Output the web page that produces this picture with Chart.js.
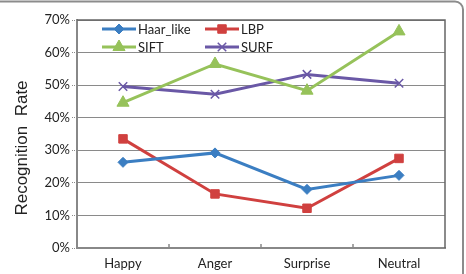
<!DOCTYPE html>
<html>
<head>
<meta charset="utf-8">
<script src="https://cdn.jsdelivr.net/npm/chart.js@4"></script>
<style>
  html, body { margin: 0; padding: 0; background: #fff; }
  #wrap { width: 466px; height: 274px; position: relative; }
</style>
</head>
<body>
<div id="wrap"><canvas id="chart" width="466" height="274"></canvas></div>
<script>
const categories = ['Happy', 'Anger', 'Surprise', 'Neutral'];
const haarLike = [26.3, 29.2, 18.0, 22.3];
const lbp = [33.5, 16.6, 12.2, 27.5];
const sift = [44.6, 56.5, 48.3, 66.5];
const surf = [49.6, 47.2, 53.3, 50.6];
const yTicks = [0, 10, 20, 30, 40, 50, 60, 70];

const tickFont = { family: 'Lato', size: 13 };

// frame, plot border, inner ticks, legend and axis title
const decor = {
  id: 'decor',
  beforeDraw(chart) {
    const ctx = chart.ctx;
    ctx.save();
    ctx.fillStyle = '#fff';
    ctx.fillRect(0, 0, chart.width, chart.height);
    ctx.strokeStyle = '#8c8c8c';
    ctx.lineWidth = 2;
    ctx.beginPath();
    ctx.roundRect(-20, 1.5, 483, 300, 8);
    ctx.stroke();
    ctx.restore();
  },
  afterDatasetsDraw(chart) {
    const ctx = chart.ctx;
    const a = chart.chartArea;
    const x = chart.scales.x;
    ctx.save();
    ctx.strokeStyle = '#666';
    ctx.lineWidth = 1.5;
    ctx.beginPath();
    ctx.moveTo(a.left, a.top);
    ctx.lineTo(a.right, a.top);
    ctx.lineTo(a.right, a.bottom);
    ctx.stroke();

    ctx.strokeStyle = '#888';
    ctx.lineWidth = 1.5;
    for (let i = 0; i < categories.length - 1; i++) {
      const px = Math.round((x.getPixelForValue(i) + x.getPixelForValue(i + 1)) / 2);
      ctx.beginPath();
      ctx.moveTo(px, a.bottom);
      ctx.lineTo(px, a.bottom - 4);
      ctx.stroke();
    }

    // legend, two columns
    const cols = [a.left + 25, a.left + 128];
    const rows = [a.top + 9, a.top + 27];
    chart.data.datasets.forEach((ds, i) => {
      const lx = cols[i % 2];
      const ly = rows[Math.floor(i / 2)];
      ctx.strokeStyle = ds.borderColor;
      ctx.fillStyle = ds.borderColor;
      ctx.lineWidth = 3;
      ctx.beginPath();
      ctx.moveTo(lx, ly);
      ctx.lineTo(lx + 34, ly);
      ctx.stroke();
      ctx.lineWidth = ds.pointBorderWidth || 1;
      Chart.helpers.drawPoint(ctx, {
        pointStyle: ds.pointStyle,
        radius: ds.pointRadius,
        borderWidth: ds.pointBorderWidth || 1,
        rotation: 0
      }, lx + 17, ly);
      ctx.fillStyle = '#222';
      ctx.font = '13px Lato';
      ctx.textBaseline = 'middle';
      ctx.textAlign = 'left';
      ctx.fillText(ds.label, lx + 36, ly + 1);
    });

    // y axis title
    ctx.translate(22, 148);
    ctx.rotate(-Math.PI / 2);
    ctx.fillStyle = '#222';
    ctx.font = '17px "Liberation Sans"';
    ctx.textAlign = 'center';
    ctx.textBaseline = 'middle';
    ctx.fillText('Recognition  Rate', 0, 0);
    ctx.restore();
  }
};

function series(label, data, color, style, radius) {
  return {
    label,
    data,
    borderColor: color,
    backgroundColor: color,
    pointBackgroundColor: color,
    pointBorderColor: color,
    borderWidth: 3,
    pointStyle: style,
    pointRadius: radius,
    pointHoverRadius: radius,
    pointBorderWidth: style === 'crossRot' ? 1.5 : 1,
    tension: 0
  };
}

const ctx = document.getElementById('chart').getContext('2d');
new Chart(ctx, {
  type: 'line',
  data: {
    labels: categories,
    datasets: [
      series('Haar_like', haarLike, '#3b7ec2', 'rectRot', 5),
      series('LBP', lbp, '#d0403f', 'rect', 6),
      series('SIFT', sift, '#96c25a', 'triangle', 7),
      series('SURF', surf, '#6a58a6', 'crossRot', 6)
    ]
  },
  options: {
    responsive: false,
    animation: false,
    layout: { padding: { top: 20, right: 21, left: 0, bottom: 0 } },
    plugins: {
      legend: { display: false },
      tooltip: { enabled: false }
    },
    scales: {
      x: {
        offset: true,
        grid: { display: false },
        border: { color: '#888', width: 2 },
        ticks: { color: '#222', font: tickFont, padding: 0 },
        afterFit(scale) { scale.height = 26; }
      },
      y: {
        min: 0,
        max: 70,
        afterBuildTicks(scale) { scale.ticks = yTicks.map(v => ({ value: v })); },
        grid: {
          color: '#8a8a8a',
          lineWidth: 1,
          borderDash: [1, 1],
          tickBorderDash: [1, 1],
          tickLength: 5
        },
        border: { color: '#888', width: 2 },
        ticks: {
          color: '#222',
          font: tickFont,
          padding: 2,
          callback: v => v + '%'
        },
        afterFit(scale) { scale.width = 77; }
      }
    }
  },
  plugins: [decor]
});
</script>
</body>
</html>
